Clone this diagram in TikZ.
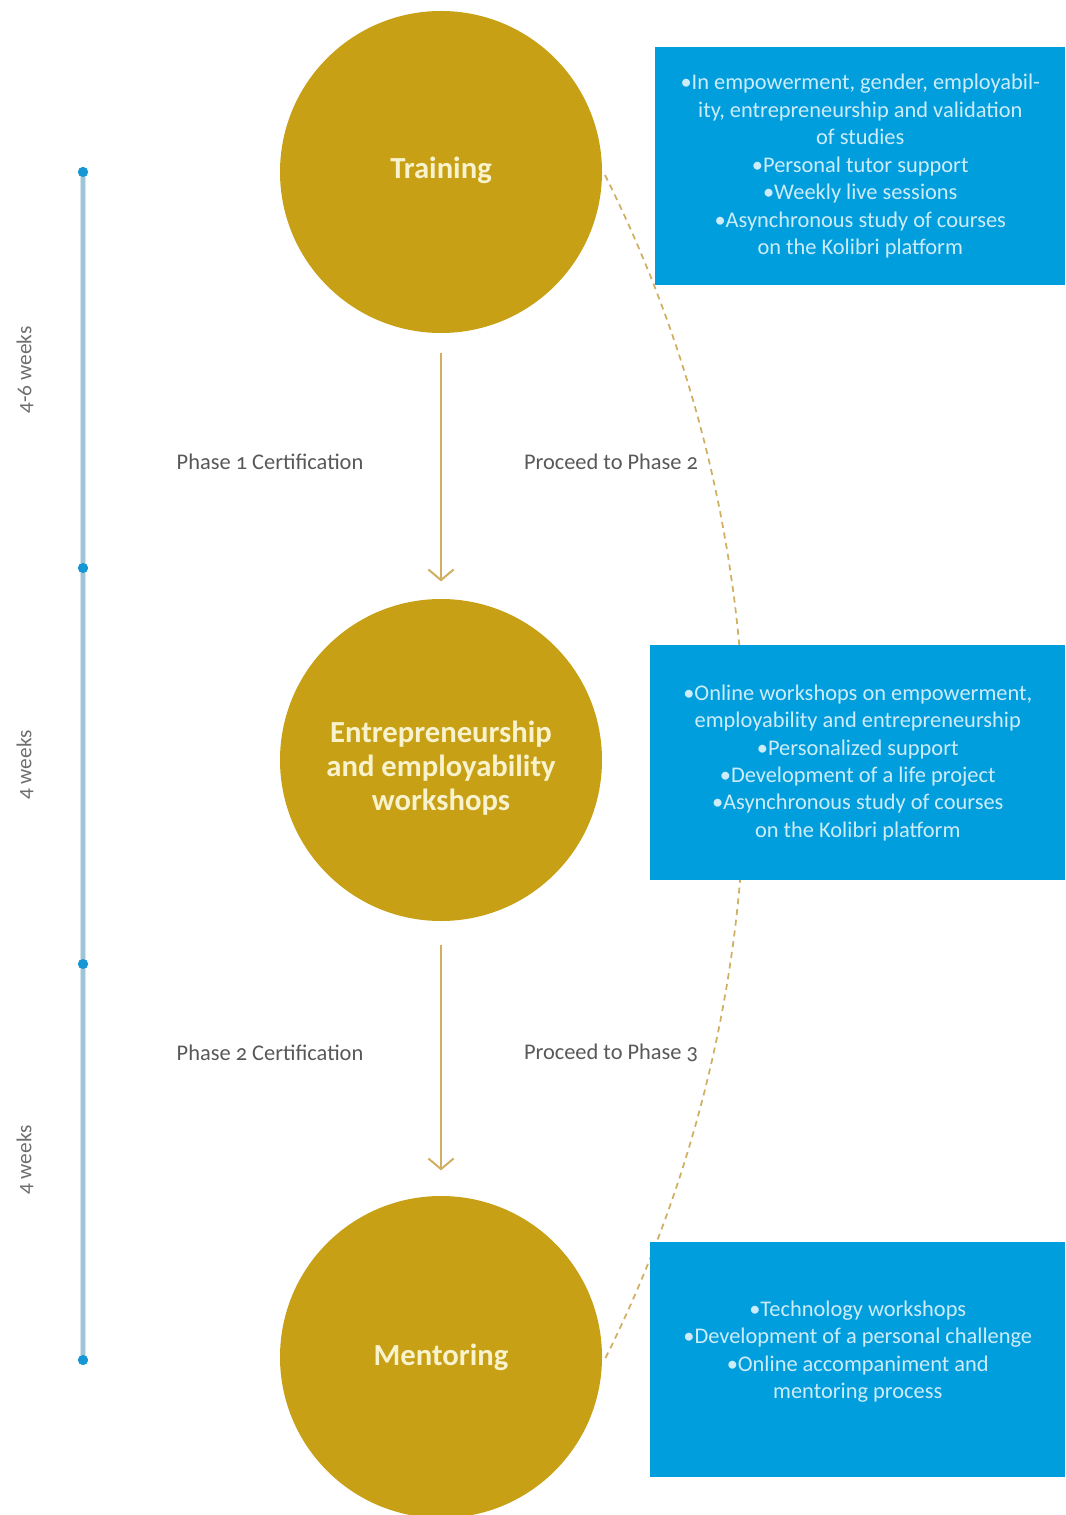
\documentclass[tikz,border=0pt]{standalone}
\usepackage{fontspec}
\setmainfont{Carlito}[Numbers=OldStyle]
\usetikzlibrary{arrows.meta}
\definecolor{gold}{RGB}{199,160,22}
\definecolor{goldline}{RGB}{208,174,98}
\definecolor{cream}{RGB}{248,242,205}
\definecolor{boxblue}{RGB}{0,158,220}
\definecolor{boxtext}{RGB}{205,236,250}
\definecolor{tline}{RGB}{160,196,216}
\definecolor{tdot}{RGB}{22,150,212}
\definecolor{labgray}{RGB}{88,88,88}
\definecolor{spangray}{RGB}{110,110,110}
\begin{document}
\begin{tikzpicture}[x=0.75pt,y=-0.75pt,
  phase/.style={circle,fill=gold,minimum size=241.5pt,inner sep=0pt},
  phasetext/.style={text=cream,font=\fontsize{23}{25.5}\selectfont\bfseries,align=center},
  infobox/.style={fill=boxblue,inner sep=0pt,anchor=north west},
  infotext/.style={text=boxtext,font=\fontsize{16.8}{20.6}\selectfont,align=center},
  steplabel/.style={text=labgray,font=\fontsize{16.8}{18}\selectfont},
  spanlabel/.style={text=spangray,font=\fontsize{16}{18}\selectfont,rotate=90},
  flow/.style={goldline,line width=1.5pt,-{Straight Barb[length=8pt,width=19pt,line width=1.5pt]}},
  proceed/.style={goldline,line width=1.3pt,dash pattern=on 4.5pt off 3.6pt},
  tick/.style={circle,fill=tdot,minimum size=7.5pt,inner sep=0pt}]
\useasboundingbox (0,0) rectangle (1065,1515);

% dashed arc linking the three phases
\draw[proceed] plot[domain=-26.6:26.6,samples=80]
  ({-577+1322*cos(\x)},{767+1322*sin(\x)});

% detail boxes
\node[infobox,minimum width=307.5pt,minimum height=178.5pt] (b1) at (655,47) {};
\node[infotext] (b1t) at (b1.center)
  {•In empowerment, gender, employabil-\\ity, entrepreneurship and validation\\of studies\\•Personal tutor support\\•Weekly live sessions\\•Asynchronous study of courses\\on the Kolibri platform};
\node[infobox,minimum width=311.25pt,minimum height=176.25pt] (b2) at (650,645) {};
\node[infotext] (b2t) at (b2.center)
  {•Online workshops on empowerment,\\employability and entrepreneurship\\•Personalized support\\•Development of a life project\\•Asynchronous study of courses\\on the Kolibri platform};
\node[infobox,minimum width=311.25pt,minimum height=176.25pt] (b3) at (650,1242) {};
\node[infotext] (b3t) at ([yshift=6pt]b3.center)
  {•Technology workshops\\•Development of a personal challenge\\•Online accompaniment and\\mentoring process};

% phases
\node[phase] (p1) at (441,172) {};
\node[phase] (p2) at (441,760) {};
\node[phase] (p3) at (441,1357) {};
\node[phasetext] (p1t) at ([yshift=1pt]p1.center) {Training};
\node[phasetext] (p2t) at ([yshift=-6pt]p2.center) {Entrepreneurship\\and employability\\workshops};
\node[phasetext] (p3t) at (p3.center) {Mentoring};

\draw[flow,shorten <=15pt,shorten >=13pt] (p1.south) -- (p2.north);
\draw[flow,shorten <=18pt,shorten >=19pt] (p2.south) -- (p3.north);

\node[steplabel] (c1) at (270,462) {Phase 1 Certification};
\node[steplabel] (n1) at (611,462) {Proceed to Phase 2};
\node[steplabel] (c2) at (270,1053) {Phase 2 Certification};
\node[steplabel] (n2) at (611,1053) {Proceed to Phase 3};

% timeline
\node[tick] (t1) at (83,172) {};
\node[tick] (t2) at (83,568) {};
\node[tick] (t3) at (83,964) {};
\node[tick] (t4) at (83,1360) {};
\draw[tline!45,line width=5pt] (t1.center) -- (t4.center);
\draw[tline,line width=2.6pt] (t1.center) -- (t4.center);
\foreach \t in {t1,t2,t3,t4} \node[tick] at (\t) {};
\node[spanlabel] (w1) at (25,370) {4-6 weeks};
\node[spanlabel] (w2) at (25,765) {4 weeks};
\node[spanlabel] (w3) at (25,1160) {4 weeks};
\end{tikzpicture}
\end{document}
